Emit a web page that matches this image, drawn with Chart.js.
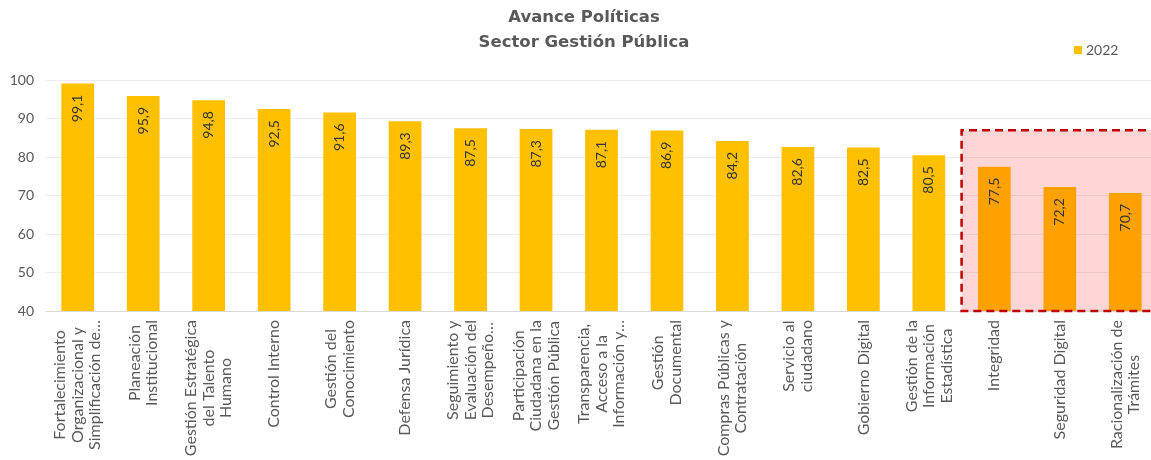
<!DOCTYPE html>
<html lang="es">
<head>
<meta charset="utf-8">
<title>Avance Políticas</title>
<script src="https://cdn.jsdelivr.net/npm/chart.js@4.4.1/dist/chart.umd.min.js"></script>
<style>
  html, body { margin:0; padding:0; background:#fff; overflow:hidden; }
  #wrap { width:1151px; height:460px; overflow:hidden; }
  #wrap canvas { display:block; }
</style>
</head>
<body>
<div id="wrap"><canvas id="chart" width="1188" height="460"></canvas></div>
<script>
// ── DATA ────────────────────────────────────────────
const categories = [
  ['Fortalecimiento', 'Organizacional y', 'Simplificación de…'],
  ['Planeación', 'Institucional'],
  ['Gestión Estratégica', 'del Talento', 'Humano'],
  ['Control Interno'],
  ['Gestión del', 'Conocimiento'],
  ['Defensa Jurídica'],
  ['Seguimiento y', 'Evaluación del', 'Desempeño…'],
  ['Participación', 'Ciudadana en la', 'Gestión Pública'],
  ['Transparencia,', 'Acceso a la', 'Información y…'],
  ['Gestión', 'Documental'],
  ['Compras Públicas y', 'Contratación'],
  ['Servicio al', 'ciudadano'],
  ['Gobierno Digital'],
  ['Gestión de la', 'Información', 'Estadística'],
  ['Integridad'],
  ['Seguridad Digital'],
  ['Racionalización de', 'Trámites']
];
const values2022 = [99.1, 95.9, 94.8, 92.5, 91.6, 89.3, 87.5, 87.3, 87.1, 86.9, 84.2, 82.6, 82.5, 80.5, 77.5, 72.2, 70.7];
const seriesName = '2022';
const yTicks = [40, 50, 60, 70, 80, 90, 100];

// highlighted group: from this category to the end, up to this value
const highlightFrom = 14;
const highlightTop = 87;

const FONT = 'Lato, "Open Sans", sans-serif';
const GREY = '#595959';

// ── PLUGIN: highlight box + value labels ────────────
const overlayPlugin = {
  id: 'overlay',
  afterDatasetsDraw(chart) {
    const {ctx, scales:{x, y}} = chart;
    const left = (x.getPixelForValue(highlightFrom - 1) + x.getPixelForValue(highlightFrom)) / 2;
    const top = y.getPixelForValue(highlightTop);
    const bottom = y.getPixelForValue(yTicks[0]);
    const right = chart.width + 10;

    ctx.save();
    ctx.fillStyle = 'rgba(255,0,0,0.16)';
    ctx.fillRect(left, top, right - left, bottom - top);

    // value labels, rotated, inside the top of each bar
    const meta = chart.getDatasetMeta(0);
    ctx.font = '14px ' + FONT;
    ctx.fillStyle = '#333333';
    ctx.textAlign = 'right';
    ctx.textBaseline = 'middle';
    meta.data.forEach((bar, i) => {
      ctx.save();
      ctx.translate(bar.x, bar.y + 11);
      ctx.rotate(-Math.PI / 2);
      ctx.fillText(values2022[i].toFixed(1).replace('.', ','), 0, 0);
      ctx.restore();
    });

    // dashed frame
    ctx.strokeStyle = '#C00000';
    ctx.lineWidth = 2.5;
    ctx.setLineDash([8, 5]);
    ctx.beginPath();
    ctx.moveTo(right, top);
    ctx.lineTo(left, top);
    ctx.lineTo(left, bottom);
    ctx.lineTo(right, bottom);
    ctx.stroke();
    ctx.restore();
  },
  afterDraw(chart) {
    const {ctx, chartArea, scales:{x}} = chart;
    ctx.save();
    ctx.font = '16px ' + FONT;
    ctx.fillStyle = GREY;
    ctx.textAlign = 'center';
    ctx.textBaseline = 'middle';

    // category labels: rotated, lines centred on each other
    categories.forEach((lines, i) => {
      const px = x.getPixelForValue(i);
      const maxW = Math.max(...lines.map(l => ctx.measureText(l).width));
      const cy = chartArea.bottom + 9 + maxW / 2;
      lines.forEach((line, j) => {
        ctx.save();
        ctx.translate(px + (j - (lines.length - 1) / 2) * 17.5, cy);
        ctx.rotate(-Math.PI / 2);
        ctx.fillText(line, 0, 0);
        ctx.restore();
      });
    });

    // legend
    ctx.font = '14px ' + FONT;
    ctx.fillStyle = '#FFC000';
    ctx.fillRect(1074, 46, 8, 8);
    ctx.fillStyle = GREY;
    ctx.textAlign = 'left';
    ctx.fillText(chart.data.datasets[0].label, 1086, 50.5);
    ctx.restore();
  }
};

// ── CHART ───────────────────────────────────────────
new Chart(document.getElementById('chart'), {
  type: 'bar',
  data: {
    labels: categories,
    datasets: [{
      label: seriesName,
      data: values2022,
      backgroundColor: '#FFC000',
      barPercentage: 0.5,
      categoryPercentage: 1.0
    }]
  },
  options: {
    responsive: false,
    animation: false,
    layout: { padding: { left: 10, right: 30, top: 0, bottom: 0 } },
    plugins: {
      legend: { display: false },
      tooltip: { enabled: false },
      title: {
        display: true,
        text: ['Avance Políticas', 'Sector Gestión Pública'],
        color: GREY,
        font: { family: '"DejaVu Sans", sans-serif', size: 16.5, weight: 'bold', lineHeight: 1.52 },
        padding: { top: 5, bottom: 25 }
      }
    },
    scales: {
      x: {
        grid: { display: false },
        border: { color: '#D9D9D9' },
        ticks: { display: false },
        afterFit(scale) { scale.height = 149; }
      },
      y: {
        min: yTicks[0],
        max: yTicks[yTicks.length - 1],
        afterBuildTicks(scale) { scale.ticks = yTicks.map(v => ({ value: v })); },
        afterFit(scale) { scale.width = 35; },
        border: { display: false },
        grid: { color: '#EDEDED', drawTicks: false },
        ticks: { color: GREY, padding: 11, font: { family: FONT, size: 14 } }
      }
    }
  },
  plugins: [overlayPlugin]
});
</script>
</body>
</html>
